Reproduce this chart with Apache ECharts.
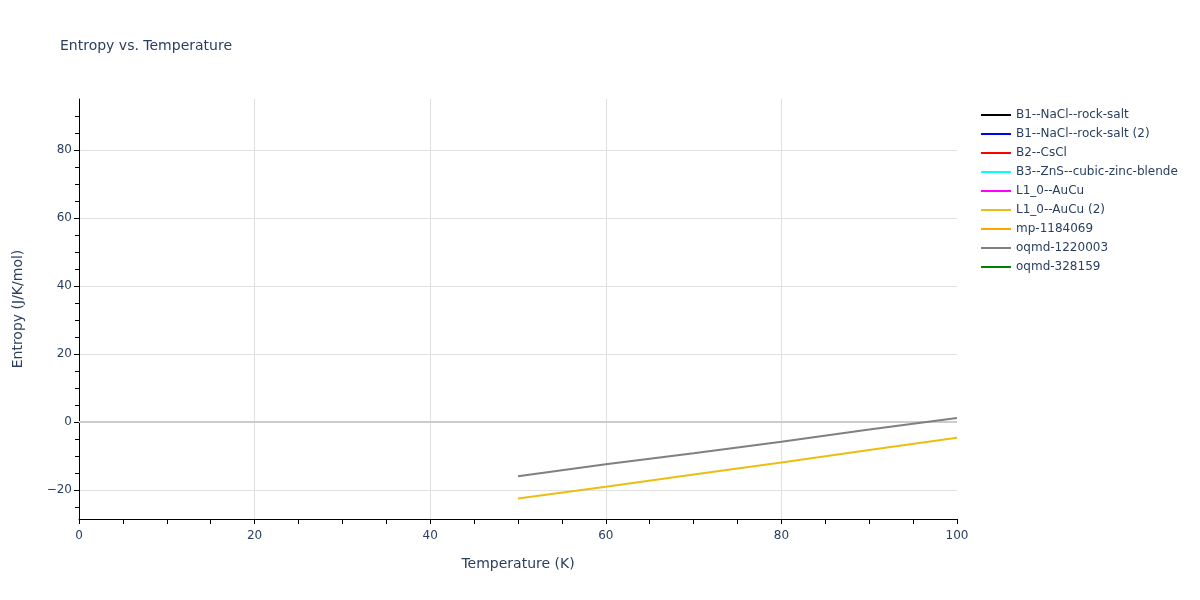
<!DOCTYPE html>
<html>
<head>
<meta charset="utf-8">
<script src="https://cdn.jsdelivr.net/npm/echarts@6/dist/echarts.min.js"></script>
<style>
html,body{margin:0;padding:0;background:#fff;}
#chart{width:1200px;height:600px;}
</style>
</head>
<body>
<div id="chart"></div>
<script>
// temperatures (K) where the two visible curves were sampled
var temps = [50, 60, 70, 80, 90, 100];
var seriesNames = ["B1--NaCl--rock-salt", "B1--NaCl--rock-salt (2)", "B2--CsCl", "B3--ZnS--cubic-zinc-blende",
    "L1_0--AuCu", "L1_0--AuCu (2)", "mp-1184069", "oqmd-1220003", "oqmd-328159"];
var seriesColors = ["#000000", "#0000ff", "#ff0000", "#00ffff", "#ff00ff", "#ecbe13", "#ffa500", "#808080", "#008000"];
var auCu2Entropy = [-22.5, -19.0, -15.4, -11.9, -8.2, -4.6];
var oqmd1220003Entropy = [-15.9, -12.4, -9.2, -5.8, -2.2, 1.2];
var yMajorTicks = [-20, 0, 20, 40, 60, 80];
var yMinorTicks = [-25, -15, -10, -5, 5, 10, 15, 25, 30, 35, 45, 50, 55, 65, 70, 75, 85, 90];

var txt = "#2a3f5f";
var font = "DejaVu Sans";

function pairs(vals) {
    return vals.map(function (v, i) { return [temps[i], v]; });
}

var dataByName = {
    "L1_0--AuCu (2)": pairs(auCu2Entropy),
    "oqmd-1220003": pairs(oqmd1220003Entropy)
};

var series = seriesNames.map(function (name, i) {
    return {
        name: name,
        type: "line",
        showSymbol: false,
        color: seriesColors[i],
        lineStyle: { width: 2, color: seriesColors[i] },
        data: dataByName[name] || []
    };
});
// zero line
series[0].markLine = {
    silent: true,
    symbol: "none",
    label: { show: false },
    lineStyle: { color: "#cccccc", width: 2, type: "solid" },
    data: [{ yAxis: 0 }],
    z: 1
};

var option = {
    animation: false,
    textStyle: { fontFamily: font },
    title: {
        text: "Entropy vs. Temperature",
        left: 55,
        top: 34,
        textStyle: { color: txt, fontSize: 14, fontWeight: "normal", fontFamily: font }
    },
    legend: {
        orient: "vertical",
        left: 976,
        top: 103,
        icon: "rect",
        itemWidth: 30,
        itemHeight: 2,
        itemGap: 5,
        textStyle: { color: txt, fontSize: 12, fontFamily: font, lineHeight: 14, height: 14 },
        data: seriesNames
    },
    grid: { left: 79, right: 243, top: 99, bottom: 81 },
    xAxis: {
        type: "value",
        min: 0,
        max: 100,
        interval: 20,
        name: "Temperature (K)",
        nameLocation: "middle",
        nameGap: 38,
        nameTextStyle: { color: txt, fontSize: 14, fontFamily: font },
        axisLine: { show: true, onZero: false, lineStyle: { color: "#000", width: 1 } },
        axisTick: { show: true, length: 5, lineStyle: { color: "#000" } },
        minorTick: { show: true, splitNumber: 4, length: 5, lineStyle: { color: "#000" } },
        axisLabel: { color: txt, fontSize: 12, margin: 11, fontFamily: font },
        splitLine: { show: true, lineStyle: { color: ["transparent", "#e0e0e0", "#e0e0e0", "#e0e0e0", "#e0e0e0", "transparent"], width: 1 } }
    },
    yAxis: [{
        type: "value",
        min: -28.5,
        max: 95,
        name: "Entropy (J/K/mol)",
        nameLocation: "middle",
        nameGap: 54,
        nameTextStyle: { color: txt, fontSize: 14, fontFamily: font },
        axisLine: { show: true, onZero: false, lineStyle: { color: "#000", width: 1 } },
        axisTick: { show: true, length: 5, customValues: yMajorTicks, lineStyle: { color: "#000" } },
        axisLabel: {
            color: txt, fontSize: 12, margin: 7, fontFamily: font, customValues: yMajorTicks,
            formatter: function (v) { return String(v).replace("-", "\u2212"); }
        },
        splitLine: { show: true, lineStyle: { color: "#e0e0e0", width: 1 } }
    }, {
        type: "value",
        min: -28.5,
        max: 95,
        position: "left",
        axisLine: { show: false },
        axisTick: { show: true, length: 4, customValues: yMinorTicks, lineStyle: { color: "#000" } },
        axisLabel: { show: false },
        splitLine: { show: false }
    }],
    series: series
};

var chart = echarts.init(document.getElementById("chart"));
chart.setOption(option);
</script>
</body>
</html>
